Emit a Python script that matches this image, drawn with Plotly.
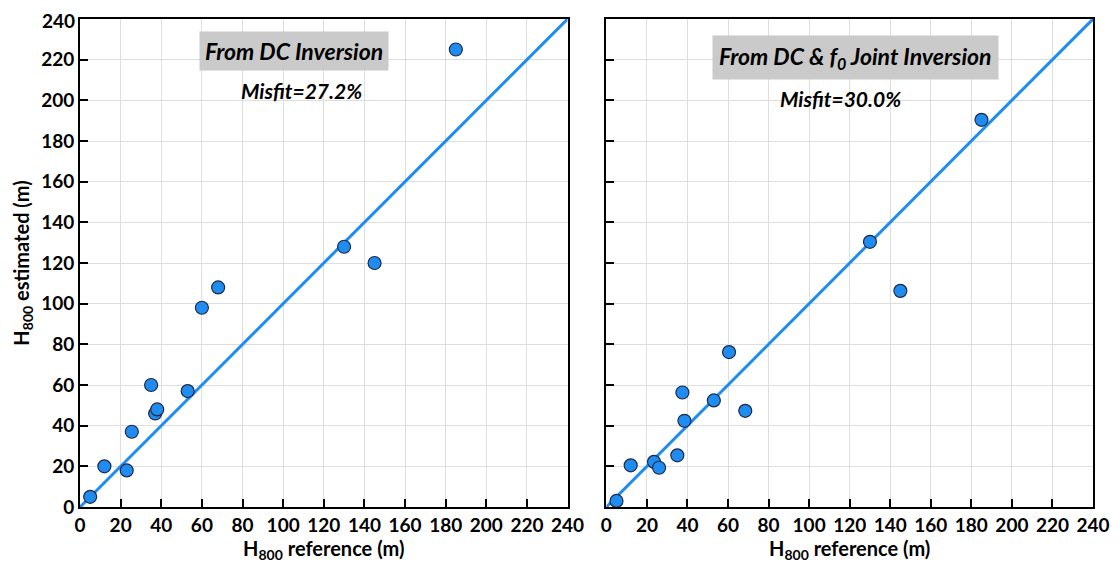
import plotly.graph_objects as go

# Data
dc_ref = [5, 12, 23, 25.5, 35, 37, 38, 53, 60, 68, 130, 145, 185]
dc_est = [5, 20, 18, 37, 60, 46, 48, 57, 98, 108, 128, 120, 225]

joint_ref = [5, 12, 23.5, 26, 35, 37.5, 38.5, 53, 60.5, 68.5, 130, 145, 185]
joint_est = [3, 20.5, 22.2, 19.3, 25.4, 56.3, 42.4, 52.4, 76.2, 47.3, 130.4, 106.3, 190.4]

line_vals = [0, 240]
tick_vals = list(range(0, 241, 20))
tick_text = [str(v) for v in tick_vals]
top_tick = tick_vals[-1]
y_tick_text = tick_text[:-1] + [""]  # top label drawn separately so it is not clipped

FONT = "Lato"
BLUE = "#1e8cf0"

fig = go.Figure()

for ax in ["", "2"]:
    fig.add_trace(go.Scatter(x=line_vals, y=line_vals, mode="lines",
                             line=dict(color=BLUE, width=3),
                             xaxis="x" + ax, yaxis="y" + ax,
                             showlegend=False, hoverinfo="skip"))

fig.add_trace(go.Scatter(x=dc_ref, y=dc_est, mode="markers",
                         marker=dict(size=13, color=BLUE,
                                     line=dict(color="#1f2a44", width=1.2)),
                         xaxis="x", yaxis="y", showlegend=False))
fig.add_trace(go.Scatter(x=joint_ref, y=joint_est, mode="markers",
                         marker=dict(size=13, color=BLUE,
                                     line=dict(color="#1f2a44", width=1.2)),
                         xaxis="x2", yaxis="y2", showlegend=False))

tickfont = dict(family=FONT, size=19, color="black", weight="bold")
titlefont = dict(family=FONT, size=20, color="black", weight="bold")

common = dict(range=[0, 240], showgrid=True,
              gridcolor="#dedede", gridwidth=1, showline=True,
              linecolor="black", linewidth=2, mirror=True,
              ticks="inside", ticklen=8, tickwidth=2, tickcolor="black",
              zeroline=False, tickfont=tickfont, fixedrange=True)

fig.update_layout(
    width=1111, height=561,
    paper_bgcolor="white", plot_bgcolor="white",
    margin=dict(l=72, r=21, t=9, b=62),
    xaxis=dict(domain=[0, 0.4813], anchor="y", tickvals=tick_vals, ticktext=tick_text,
               title=dict(text="H<sub>800</sub> reference (m)", font=titlefont, standoff=4),
               **common),
    yaxis=dict(domain=[0, 1], anchor="x", tickvals=tick_vals, ticktext=y_tick_text,
               title=dict(text="H<sub>800</sub> estimated (m)", font=titlefont, standoff=6),
               **common),
    xaxis2=dict(domain=[0.5196, 1], anchor="y2", tickvals=tick_vals, ticktext=tick_text,
                title=dict(text="H<sub>800</sub> reference (m)", font=titlefont, standoff=4),
                **common),
    yaxis2=dict(domain=[0, 1], anchor="x2", tickvals=tick_vals,
                showticklabels=False, **common),
)

# top y tick label
fig.add_annotation(x=0, y=top_tick, xref="x", yref="y", text=str(top_tick),
                   showarrow=False, xanchor="right", xshift=-3, yshift=-1,
                   font=tickfont)

annfont = dict(family=FONT, size=23, color="black", weight="bold", style="italic")
misfont = dict(family=FONT, size=21, color="black", weight="bold", style="italic")
fig.add_annotation(x=105.4, y=224.3, xref="x", yref="y", text="From DC Inversion",
                   showarrow=False, bgcolor="#cacaca", borderpad=5, font=annfont)
fig.add_annotation(x=109, y=204.7, xref="x", yref="y", text="Misfit=27.2%",
                   showarrow=False, font=misfont)
fig.add_annotation(x=123, y=220.9, xref="x2", yref="y2",
                   text="From DC &amp; <i>f</i><sub>0</sub> Joint Inversion",
                   showarrow=False, bgcolor="#cacaca", borderpad=6, font=annfont)
fig.add_annotation(x=115.7, y=200.7, xref="x2", yref="y2", text="Misfit=30.0%",
                   showarrow=False, font=misfont)

fig.write_html("out.html")
